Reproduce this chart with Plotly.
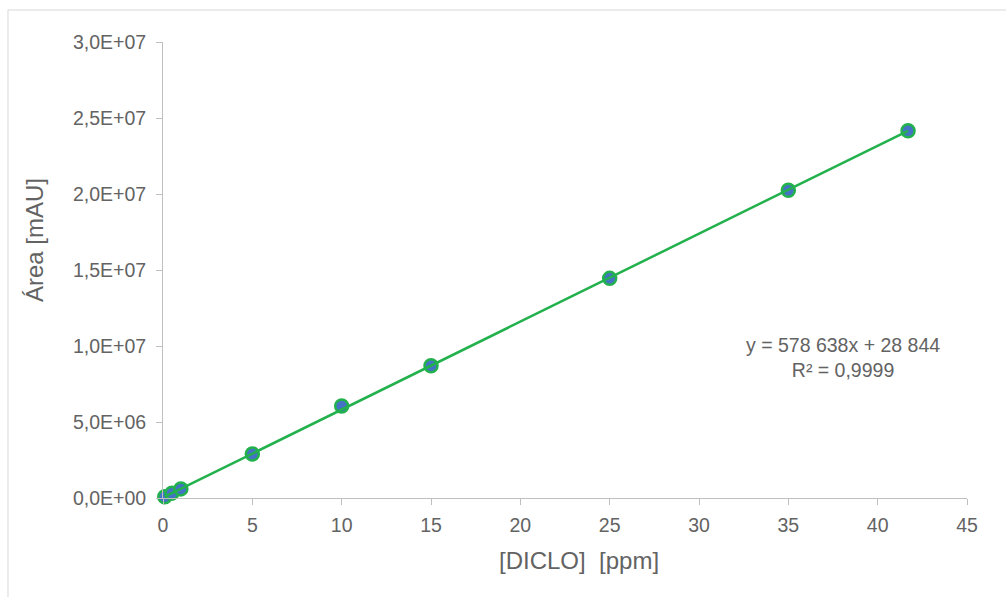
import plotly.graph_objects as go

# Calibration data: diclofenac concentration vs. peak area
conc_ppm = [0.1, 0.5, 1, 5, 10, 15, 25, 35, 41.7]
area_mau = [8.5e4, 3.2e5, 6.0e5, 2.9e6, 6.05e6, 8.7e6, 1.445e7, 2.025e7, 2.416e7]

# Linear fit reported on the chart
slope = 578638
intercept = 28844
r2_text = "0,9999"

y_tickvals = [0, 5e6, 1e7, 1.5e7, 2e7, 2.5e7, 3e7]
y_ticktext = ["0,0E+00", "5,0E+06", "1,0E+07", "1,5E+07", "2,0E+07", "2,5E+07", "3,0E+07"]
x_tickvals = [0, 5, 10, 15, 20, 25, 30, 35, 40, 45]

text_color = "#636363"
axis_color = "#BFBFBF"
green = "#22B14C"
blue = "#4472C4"
font_family = "Arial, Liberation Sans, sans-serif"

fit_x = [min(conc_ppm), max(conc_ppm)]
fit_y = [slope * x + intercept for x in fit_x]

fig = go.Figure()
fig.add_trace(go.Scatter(
    x=conc_ppm, y=area_mau, mode="markers", cliponaxis=False,
    marker=dict(size=13, color=blue, line=dict(color=green, width=2.5)),
    showlegend=False, hoverinfo="x+y",
))
fig.add_trace(go.Scatter(
    x=fit_x, y=fit_y, mode="lines", cliponaxis=False,
    line=dict(color=green, width=2.5),
    showlegend=False, hoverinfo="skip",
))

def fmt_thousands(v):
    return f"{v:,}".replace(",", " ")

# Trendline equation
fig.add_annotation(
    xref="paper", yref="paper", x=0.846, y=0.309,
    xanchor="center", yanchor="middle",
    text=f"y = {fmt_thousands(slope)}x + {fmt_thousands(intercept)}<br>R² = {r2_text}",
    showarrow=False, align="center",
    font=dict(family=font_family, size=19.5, color=text_color),
)

# Axis titles
fig.add_annotation(
    xref="paper", yref="paper", x=0.518, y=-0.136,
    xanchor="center", yanchor="middle", showarrow=False,
    text="[DICLO]  [ppm]",
    font=dict(family=font_family, size=24, color=text_color),
)
fig.add_annotation(
    xref="paper", yref="paper", x=-0.159, y=0.566,
    xanchor="center", yanchor="middle", showarrow=False,
    text="Área [mAU]", textangle=-90,
    font=dict(family=font_family, size=24, color=text_color),
)

# Outer chart frame
fig.add_shape(
    type="rect", xref="paper", yref="paper",
    x0=-0.1928, x1=1.2, y0=-0.3, y1=1.0702,
    line=dict(color="#D9D9D9", width=1), fillcolor="rgba(0,0,0,0)",
    layer="below",
)

fig.update_layout(
    width=1006, height=597,
    margin=dict(l=163, r=39, t=42, b=99),
    paper_bgcolor="white", plot_bgcolor="white",
    font=dict(family=font_family, size=19.5, color=text_color),
    xaxis=dict(
        range=[0, 45], tickvals=x_tickvals, ticks="outside", ticklen=6,
        tickcolor=axis_color, showline=True, linecolor=axis_color, linewidth=1,
        showgrid=False, zeroline=False, ticklabelstandoff=4,
    ),
    yaxis=dict(
        range=[0, 3e7], tickvals=y_tickvals, ticktext=y_ticktext, ticks="outside",
        ticklen=6, tickcolor=axis_color, showline=True, linecolor=axis_color,
        linewidth=1, showgrid=False, zeroline=False, ticklabelstandoff=6,
    ),
)

fig.write_html("out.html")
